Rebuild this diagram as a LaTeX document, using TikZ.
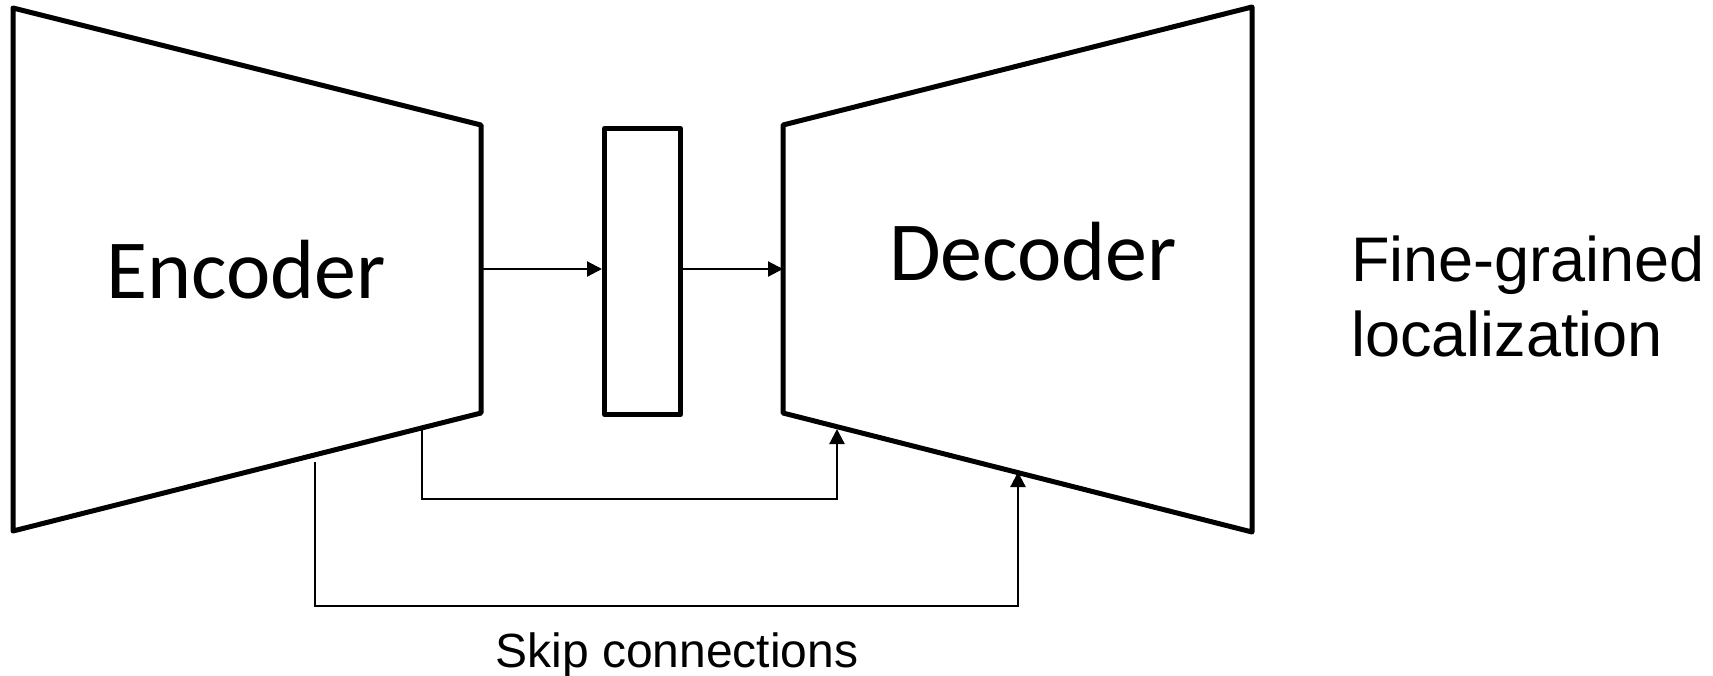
\documentclass[tikz,border=0pt]{standalone}
\usepackage{fontspec}
\setmainfont{Liberation Sans}
\newfontfamily\calib{Carlito}
\usetikzlibrary{arrows.meta}
\tikzset{
  block/.style={draw=black, line width=5pt, line join=round},
  link/.style={draw=black, line width=2.2pt},
  flow/.style={link, -{Triangle[length=15pt,width=15pt]}},
  bigtxt/.style={inner sep=0pt, anchor=base, font=\calib\fontsize{84}{100}\selectfont},
}
\begin{document}
\begin{tikzpicture}[x=1pt,y=-1pt]
\useasboundingbox (0,0) rectangle (1713,675);
% encoder corners
\coordinate (eTL) at (13,8);
\coordinate (eTR) at (481,125);
\coordinate (eBR) at (481,413);
\coordinate (eBL) at (13,531);
% bottleneck
\node[block, minimum width=76pt, minimum height=286pt, inner sep=0pt, anchor=north west] (mid) at (602,126) {};
% decoder corners
\coordinate (dTL) at (783,125);
\coordinate (dTR) at (1252,7);
\coordinate (dBR) at (1252,532);
\coordinate (dBL) at (783,413);
\draw[block] (eTL) -- (eTR) -- (eBR) -- (eBL) -- cycle;
\draw[block] (dTL) -- (dTR) -- (dBR) -- (dBL) -- cycle;
% texts
\node[bigtxt] (enc) at (246,298) {Encoder};
\node[bigtxt] (dec) at (1033,280) {Decoder};
\node[inner sep=0pt, anchor=base west, align=left, font=\fontsize{63}{75}\selectfont] (fine) at (1351,356) {Fine-grained\\localization};
\node[inner sep=0pt, anchor=base, font=\fontsize{48}{58}\selectfont] (skip) at (677,667) {Skip connections};
% main flow
\coordinate (eOut) at (481,269);
\coordinate (mIn) at (602,269);
\coordinate (mOut) at (678,269);
\coordinate (dIn) at (783,269);
\draw[flow] (eOut) -- (mIn);
\draw[flow] (mOut) -- (dIn);
% skip connections
\coordinate (s1a) at (422,428);
\coordinate (s1b) at (837,429);
\coordinate (s2a) at (315,462);
\coordinate (s2b) at (1018,472);
\draw[flow] (s1a) -- (422,499) -| (s1b);
\draw[flow] (s2a) -- (315,606) -| (s2b);
\end{tikzpicture}
\end{document}
